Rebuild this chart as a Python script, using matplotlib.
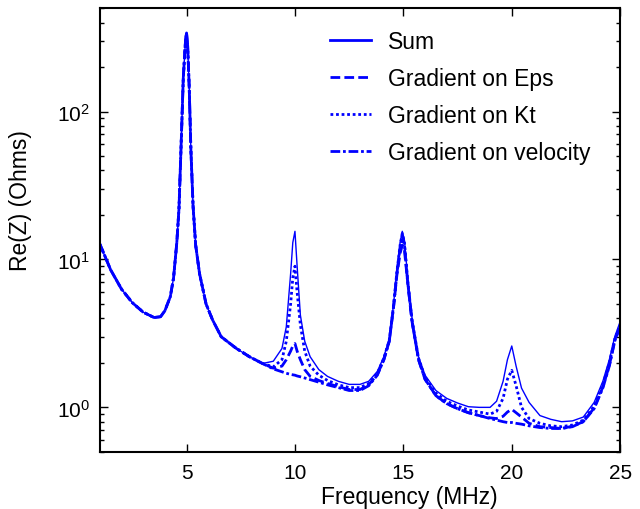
import matplotlib
matplotlib.use("Agg")
import matplotlib.pyplot as plt
import numpy as np

plt.rcParams['font.family'] = ['Liberation Sans', 'DejaVu Sans']
plt.rcParams['mathtext.default'] = 'regular'

freq = [1.0, 1.25, 1.5, 2.0, 2.5, 3.0, 3.5, 3.8, 4.0, 4.25, 4.4, 4.55, 4.65, 4.75,
        4.85, 4.95, 5.0, 5.05, 5.12, 5.2, 5.3, 5.42, 5.6, 5.9, 6.2, 6.6, 7.3, 7.9, 8.5,
        9.0, 9.4, 9.6, 9.8, 9.9, 10.0, 10.1, 10.25, 10.45, 10.7, 11.1, 11.5, 12.0, 12.5,
        13.0, 13.4, 13.8, 14.1, 14.35, 14.55, 14.7, 14.85, 14.95, 15.05, 15.2, 15.4,
        15.7, 16.0, 16.5, 17.0, 17.5, 18.0, 18.5, 19.0, 19.3, 19.6, 19.8, 20.0, 20.2,
        20.45, 20.8, 21.3, 21.8, 22.3, 22.8, 23.3, 23.8, 24.2, 24.5, 24.75, 25.0]

# first part (1 - 8.5 MHz), all curves overlap
low_common = [12.7, 10.4, 8.5, 6.3, 5.1, 4.4, 4.05, 4.1, 4.5, 5.6, 7.5, 13, 22, 60,
              170, 300, 340, 280, 150, 55, 23, 12.5, 8.0, 5.0, 3.9, 3.0, 2.5, 2.2, 1.98]

sum_tail = [2.05, 2.5, 3.5, 8.0, 13.0, 15.5, 9.0, 4.2, 2.8, 2.2, 1.8, 1.62, 1.5, 1.43,
            1.43, 1.5, 1.75, 2.2, 2.9, 5.0, 8.5, 13, 15.5, 13.5, 7.5, 4.0,
            2.2, 1.65, 1.3, 1.15, 1.07, 1.01, 1.0, 1.0, 1.1, 1.5, 2.1, 2.6, 1.9,
            1.35, 1.08, 0.88, 0.83, 0.80, 0.81, 0.86, 1.08, 1.5, 2.1, 3.0, 3.8]
eps_tail = [1.84, 1.9, 2.1, 2.4, 2.6, 2.7, 2.4, 2.1, 1.8, 1.62, 1.52, 1.45, 1.38, 1.32,
            1.32, 1.42, 1.67, 2.1, 2.8, 4.8, 7.8, 11.0, 12.5, 11.5, 7.0, 3.8,
            2.1, 1.55, 1.2, 1.06, 0.98, 0.92, 0.88, 0.85, 0.84, 0.87, 0.93, 0.97, 0.92,
            0.86, 0.78, 0.74, 0.73, 0.72, 0.745, 0.80, 0.99, 1.37, 1.92, 2.85, 3.55]
kt_tail = [1.88, 2.1, 2.8, 5.0, 7.5, 9.0, 6.0, 3.6, 2.4, 1.9, 1.65, 1.52, 1.42, 1.36,
           1.36, 1.45, 1.7, 2.15, 2.85, 4.9, 8.2, 12.5, 15.0, 13.0, 7.2, 3.9,
           2.15, 1.6, 1.25, 1.1, 1.02, 0.96, 0.93, 0.9, 0.94, 1.15, 1.55, 1.78, 1.4,
           1.0, 0.84, 0.78, 0.75, 0.74, 0.76, 0.82, 1.02, 1.42, 2.0, 2.9, 3.6]
vel_tail = [1.82, 1.74, 1.70, 1.67, 1.66, 1.65, 1.63, 1.61, 1.58, 1.54, 1.48, 1.42, 1.36, 1.30,
            1.30, 1.40, 1.65, 2.1, 2.8, 4.8, 8.0, 12.0, 14.5, 12.5, 7.0, 3.8,
            2.1, 1.55, 1.2, 1.06, 0.98, 0.92, 0.88, 0.84, 0.82, 0.80, 0.79, 0.79, 0.78,
            0.77, 0.75, 0.73, 0.72, 0.72, 0.74, 0.80, 0.98, 1.35, 1.9, 2.8, 3.5]

z_sum = low_common + sum_tail
z_eps = low_common + eps_tail
z_kt = low_common + kt_tail
z_vel = low_common + vel_tail

blue = "#0000ff"
fig = plt.figure(figsize=(6.4, 5.1), dpi=100)
ax = fig.add_axes([0.156, 0.112, 0.813, 0.870])

ax.plot(freq, z_sum, color=blue, lw=1.0, label="Sum")
ax.plot(freq, z_eps, color=blue, lw=2.0, dashes=(3.5, 1.5), label="Gradient on Eps")
ax.plot(freq, z_kt, color=blue, lw=2.0, dashes=(1, 1), label="Gradient on Kt")
ax.plot(freq, z_vel, color=blue, lw=2.0, dashes=(3.5, 1, 1, 1), label="Gradient on velocity")

ax.set_yscale("log")
ax.set_xlim(1, 25)
ax.set_ylim(0.5, 500)
ax.set_xticks([5, 10, 15, 20, 25])
ax.tick_params(which="both", direction="in", top=True, right=True, labelsize=15, width=1)
ax.tick_params(which="major", length=6)
ax.tick_params(which="minor", length=3)
ax.tick_params(axis="x", pad=8)
ax.tick_params(axis="y", pad=7)
for s in ax.spines.values():
    s.set_linewidth(1.5)
ax.set_xlabel("Frequency (MHz)", fontsize=16.5)
ax.set_ylabel("Re(Z) (Ohms)", fontsize=16.5)
ax.xaxis.set_label_coords(0.594, -0.075)
ax.yaxis.set_label_coords(-0.13, 0.568)

leg = ax.legend(loc="upper left", bbox_to_anchor=(0.442, 0.95), frameon=False, fontsize=16.5,
                handlelength=1.8, labelspacing=0.6, handletextpad=0.75,
                borderaxespad=0, borderpad=0)
for h in leg.get_lines():
    h.set_linewidth(2.0)

fig.savefig("out.png", dpi=100)
